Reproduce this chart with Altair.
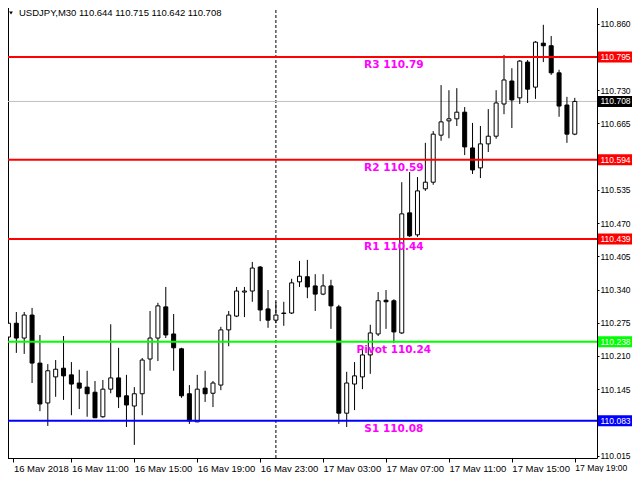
import altair as alt
import pandas as pd

# ---------------- data ----------------
opens = [110.247, 110.274, 110.245, 110.290, 110.196, 110.118, 110.169, 110.186, 110.173, 110.157,
         110.149, 110.139, 110.091, 110.145, 110.167, 110.132, 110.112, 110.136, 110.204, 110.245,
         110.306, 110.253, 110.224, 110.136, 110.081, 110.147, 110.137, 110.153, 110.261, 110.288,
         110.335, 110.337, 110.384, 110.302, 110.280, 110.294, 110.294, 110.355, 110.365, 110.347,
         110.331, 110.347, 110.306, 110.098, 110.155, 110.169, 110.212, 110.253, 110.319, 110.318,
         110.255, 110.490, 110.447, 110.537, 110.550, 110.642, 110.670, 110.674, 110.687, 110.617,
         110.578, 110.625, 110.640, 110.703, 110.748, 110.715, 110.785, 110.736, 110.822, 110.817,
         110.764, 110.701, 110.644]
highs = [110.282, 110.296, 110.296, 110.304, 110.251, 110.194, 110.202, 110.249, 110.198, 110.183,
         110.181, 110.161, 110.163, 110.272, 110.226, 110.173, 110.149, 110.206, 110.298, 110.314,
         110.345, 110.292, 110.226, 110.153, 110.173, 110.181, 110.161, 110.267, 110.298, 110.345,
         110.345, 110.394, 110.386, 110.339, 110.316, 110.316, 110.361, 110.396, 110.398, 110.370,
         110.370, 110.359, 110.310, 110.179, 110.198, 110.226, 110.271, 110.335, 110.339, 110.321,
         110.550, 110.570, 110.560, 110.627, 110.650, 110.740, 110.730, 110.734, 110.697, 110.666,
         110.660, 110.693, 110.730, 110.799, 110.773, 110.789, 110.789, 110.826, 110.858, 110.836,
         110.770, 110.717, 110.715]
lows = [110.243, 110.216, 110.214, 110.157, 110.102, 110.073, 110.130, 110.124, 110.094, 110.106,
        110.091, 110.089, 110.089, 110.137, 110.108, 110.071, 110.036, 110.094, 110.181, 110.200,
        110.245, 110.181, 110.128, 110.077, 110.081, 110.120, 110.110, 110.143, 110.229, 110.286,
        110.286, 110.316, 110.278, 110.265, 110.274, 110.269, 110.292, 110.345, 110.323, 110.298,
        110.329, 110.263, 110.077, 110.071, 110.104, 110.145, 110.175, 110.249, 110.263, 110.235,
        110.253, 110.443, 110.443, 110.533, 110.545, 110.631, 110.636, 110.660, 110.603, 110.566,
        110.558, 110.609, 110.635, 110.683, 110.656, 110.703, 110.705, 110.713, 110.785, 110.760,
        110.678, 110.627, 110.642]
closes = [110.274, 110.245, 110.290, 110.196, 110.116, 110.181, 110.184, 110.171, 110.155, 110.147,
          110.136, 110.089, 110.145, 110.167, 110.130, 110.114, 110.136, 110.202, 110.245, 110.308,
          110.251, 110.226, 110.132, 110.083, 110.145, 110.136, 110.157, 110.261, 110.290, 110.337,
          110.337, 110.382, 110.300, 110.280, 110.290, 110.293, 110.353, 110.366, 110.345, 110.331,
          110.347, 110.308, 110.098, 110.157, 110.171, 110.212, 110.255, 110.318, 110.316, 110.257,
          110.488, 110.445, 110.533, 110.550, 110.644, 110.668, 110.674, 110.687, 110.619, 110.574,
          110.625, 110.640, 110.705, 110.750, 110.711, 110.787, 110.732, 110.824, 110.817, 110.764,
          110.699, 110.644, 110.708]

time_labels = ["16 May 2018", "16 May 11:00", "16 May 15:00", "16 May 19:00", "16 May 23:00",
               "17 May 03:00", "17 May 07:00", "17 May 11:00", "17 May 15:00", "17 May 19:00"]
label_bars = [0, 8, 16, 24, 32, 40, 48, 56, 64, 72]

level_names = ["R3", "R2", "R1", "Pivot", "S1"]
level_values = [110.795, 110.594, 110.439, 110.238, 110.083]
level_text = ["R3 110.79", "R2 110.59", "R1 110.44", "Pivot 110.24", "S1 110.08"]
bid_price = [110.708]
price_ticks = [110.860, 110.730, 110.665, 110.535, 110.470,
               110.405, 110.340, 110.275, 110.210, 110.145, 110.015]
separator_bar = 34
header = "USDJPY,M30  110.644 110.715 110.642 110.708"

# ---------------- styles / layout ----------------
level_colors = ["#FF0000", "#FF0000", "#FF0000", "#00FF00", "#0000FF"]
W, H = 595, 458
FONT = "Liberation Sans"
RFONT = 8.5

candles = pd.DataFrame({
    "i": list(range(len(opens))),
    "open": opens, "high": highs, "low": lows, "close": closes,
})
candles["dir"] = ["up" if c >= o else "down" for o, c in zip(opens, closes)]

levels = pd.DataFrame({"name": level_names, "value": level_values, "label": level_text})
bid = pd.DataFrame({"value": bid_price})

xdom = [-0.1875, -0.1875 + W / 8.0]
ydom = [110.0103, 110.9065]
xs = alt.Scale(domain=xdom, nice=False, zero=False)
ys = alt.Scale(domain=ydom, nice=False, zero=False)
lvl_color = alt.Scale(domain=level_names, range=level_colors)

label_expr = "'" + time_labels[0] + "'"
for b, t in reversed(list(zip(label_bars[1:], time_labels[1:]))):
    label_expr = "datum.value == " + str(b) + " ? '" + t + "' : (" + label_expr + ")"
x_values = [0.625] + label_bars[1:]

x_axis = alt.Axis(orient="bottom", values=x_values, labelExpr=label_expr, labelAlign="left",
                  labelBaseline="top", labelPadding=1, tickSize=4, labelFont=FONT,
                  labelFontSize={"condition": {"test": "datum.value == " + str(label_bars[-1]),
                                               "value": 8.6}, "value": 9.5},
                  labelColor="black", tickColor="black", domainColor="black",
                  grid=False, title=None, zindex=1)
y_axis = alt.Axis(orient="right", values=price_ticks, format=".3f", tickSize=2, labelPadding=1,
                  labelFont=FONT, labelFontSize=RFONT, labelColor="black", tickColor="black",
                  domainColor="black", grid=False, title=None, zindex=1)

base = alt.Chart(candles)

border = alt.Chart(bid).mark_rule(color="black", strokeWidth=1).encode(
    x=alt.value(6.5), y=alt.value(0), y2=alt.value(H))

separator = alt.Chart(bid).mark_rule(color="black", strokeWidth=1, strokeDash=[3, 2]).encode(
    x=alt.X(datum=separator_bar, scale=xs), y=alt.value(0), y2=alt.value(H))

bid_line = alt.Chart(bid).mark_rule(color="#C0C0C0", strokeWidth=1).encode(
    y=alt.Y("value:Q", scale=ys), x=alt.value(0), x2=alt.value(W))

wicks = base.mark_rule(color="black", strokeWidth=1, clip=True).encode(
    x=alt.X("i:Q", scale=xs, axis=x_axis),
    y=alt.Y("low:Q", scale=ys, axis=y_axis), y2="high:Q")

bodies = base.mark_bar(size=4, stroke="black", strokeWidth=1, clip=True).encode(
    x=alt.X("i:Q", scale=xs),
    y=alt.Y("open:Q", scale=ys), y2="close:Q",
    fill=alt.Fill("dir:N", scale=alt.Scale(domain=["up", "down"], range=["white", "black"]),
                  legend=None))

level_lines = alt.Chart(levels).mark_rule(strokeWidth=2).encode(
    y=alt.Y("value:Q", scale=ys), x=alt.value(0), x2=alt.value(W),
    color=alt.Color("name:N", scale=lvl_color, legend=None))

level_labels = alt.Chart(levels).mark_text(color="#FF00FF", font="DejaVu Sans", fontWeight="bold",
                                           fontSize=10.5, dy=8, align="center",
                                           baseline="middle").encode(
    x=alt.X(datum=49, scale=xs),
    y=alt.Y("value:Q", scale=ys), text="label:N")

level_boxes = alt.Chart(levels).mark_tick(orient="horizontal", size=34, thickness=11,
                                          opacity=1).encode(
    x=alt.value(613), y=alt.Y("value:Q", scale=ys),
    color=alt.Color("name:N", scale=lvl_color, legend=None))

level_box_text = alt.Chart(levels).mark_text(color="white", font=FONT, fontSize=RFONT,
                                             align="left", baseline="middle").encode(
    x=alt.value(598.5), y=alt.Y("value:Q", scale=ys),
    text=alt.Text("value:Q", format=".3f"))

bid_box = alt.Chart(bid).mark_tick(orient="horizontal", size=34, thickness=11, opacity=1,
                                   color="black").encode(
    x=alt.value(613), y=alt.Y("value:Q", scale=ys))

bid_box_text = alt.Chart(bid).mark_text(color="white", font=FONT, fontSize=RFONT, align="left",
                                        baseline="middle").encode(
    x=alt.value(598.5), y=alt.Y("value:Q", scale=ys),
    text=alt.Text("value:Q", format=".3f"))

tri = alt.Chart(bid).mark_point(shape="triangle-down", filled=True, size=14, color="black",
                                opacity=1).encode(x=alt.value(9), y=alt.value(13))

head = alt.Chart(bid).mark_text(text=header, font=FONT, fontSize=9.5, color="black",
                                align="left", baseline="middle").encode(
    x=alt.value(17), y=alt.value(13))

chart = alt.layer(
    border, separator, bid_line, wicks, bodies, level_lines, level_labels,
    level_boxes, level_box_text, bid_box, bid_box_text, tri, head
).properties(
    width=W, height=H, background="white",
    autosize=alt.AutoSizeParams(type="none"),
    padding={"left": -6, "top": -8, "right": 35, "bottom": 14},
).configure_view(stroke=None)

chart.save("out.html", embed_options={"renderer": "svg", "actions": False})
